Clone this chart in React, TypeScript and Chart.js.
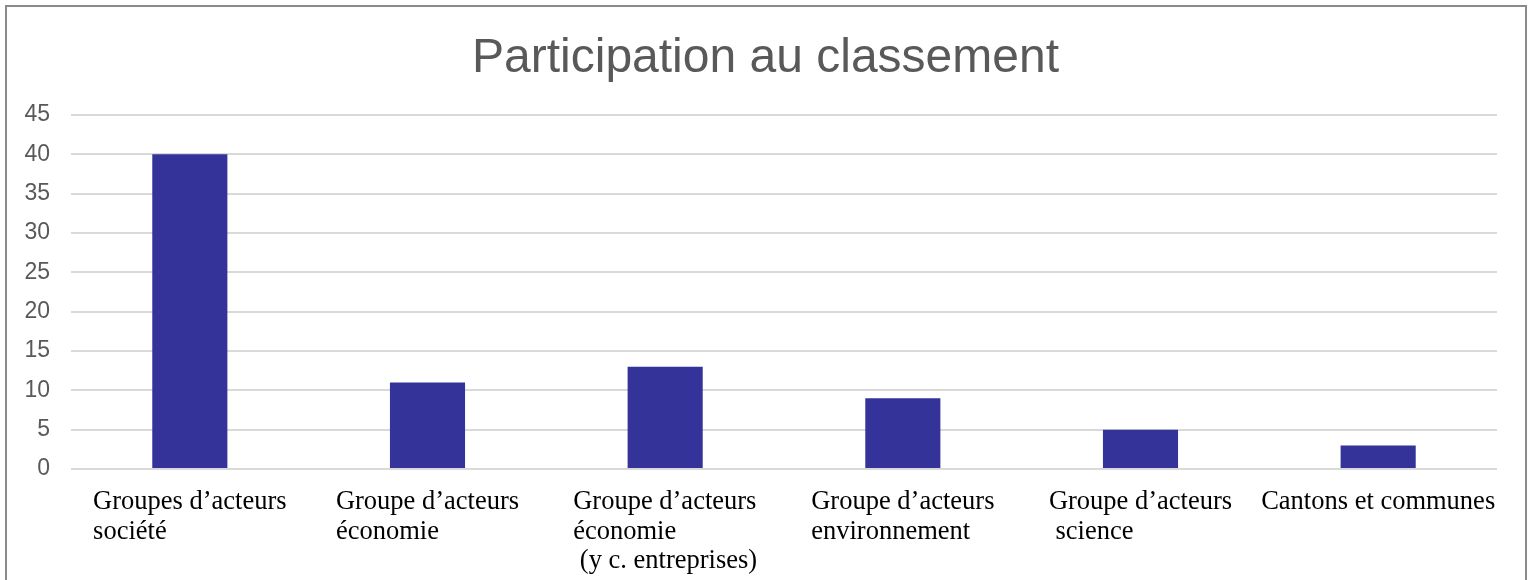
import React, { useEffect, useRef } from "react";
import { Chart, registerables } from "chart.js";

Chart.register(...registerables);

const chartTitle = "Participation au classement";
const categoryLines: string[][] = [
  ["Groupes d’acteurs", "société"],
  ["Groupe d’acteurs", "économie"],
  ["Groupe d’acteurs", "économie", " (y c. entreprises)"],
  ["Groupe d’acteurs", "environnement"],
  ["Groupe d’acteurs", " science"],
  ["Cantons et communes"],
];
const participants: number[] = [40, 11, 13, 9, 5, 3];
const yMin = 0;
const yMax = 45;
const yStep = 5;

const labelPlugin = {
  id: "leftBlockLabels",
  afterLayout(chart: any) {
    // centre the title over the whole canvas rather than the padded box
    const tb = chart.titleBlock;
    if (tb) {
      tb.left = 0;
      tb.right = chart.width;
      tb.width = chart.width;
    }
  },
  afterDraw(chart: any) {
    const ctx = chart.ctx;
    const xs = chart.scales.x;
    ctx.save();
    ctx.font = '26.5px "Liberation Serif", "Times New Roman", serif';
    ctx.fillStyle = "#000000";
    ctx.textAlign = "left";
    ctx.textBaseline = "alphabetic";
    categoryLines.forEach((lines, i) => {
      const cx = xs.getPixelForValue(i);
      const w = Math.max(...lines.map((l) => ctx.measureText(l).width));
      const left = cx - w / 2;
      lines.forEach((line, j) => {
        ctx.fillText(line, left, xs.top + 40 + j * 29.5);
      });
    });
    ctx.restore();
  },
};

export default function App() {
  const ref = useRef<HTMLCanvasElement | null>(null);

  useEffect(() => {
    if (!ref.current) return;
    const chart = new Chart(ref.current, {
      type: "bar",
      data: {
        labels: categoryLines.map((l) => l.join(" ")),
        datasets: [
          {
            data: participants,
            backgroundColor: "#333399",
            borderWidth: 0,
            categoryPercentage: 1,
            barPercentage: 0.316,
          },
        ],
      },
      options: {
        animation: false,
        responsive: false,
        devicePixelRatio: 1,
        layout: { padding: { left: 11, right: 34, top: 0, bottom: 0 } },
        plugins: {
          legend: { display: false },
          tooltip: { enabled: false },
          title: {
            display: true,
            text: chartTitle,
            color: "#595959",
            font: { family: '"Liberation Sans", Arial, sans-serif', size: 48, weight: "normal", lineHeight: 1.2 },
            padding: { top: 30, bottom: 27.4 },
          },
        },
        scales: {
          x: {
            grid: { display: false },
            border: { display: false },
            ticks: { display: false },
            afterFit: (scale: any) => {
              scale.height = 111;
            },
          },
          y: {
            min: yMin,
            max: yMax,
            ticks: {
              stepSize: yStep,
              padding: 21,
              color: "#595959",
              font: { family: '"Liberation Sans", Arial, sans-serif', size: 23 },
            },
            grid: { color: "#d9d9d9", lineWidth: 2, drawTicks: false },
            border: { display: false },
            afterFit: (scale: any) => {
              scale.width = 60;
            },
          },
        },
      },
      plugins: [labelPlugin],
    });
    return () => chart.destroy();
  }, []);

  return (
    <div style={{ position: "fixed", left: 0, top: 0, width: 1531, height: 580, overflow: "hidden", background: "#fff" }}>
      <div
        style={{
          position: "absolute",
          left: 5,
          top: 5,
          width: 1518,
          height: 620,
          border: "2px solid #8a8a8a",
        }}
      />
      <canvas ref={ref} width={1531} height={580} style={{ position: "absolute", left: 0, top: 0, width: 1531, height: 580 }} />
    </div>
  );
}
